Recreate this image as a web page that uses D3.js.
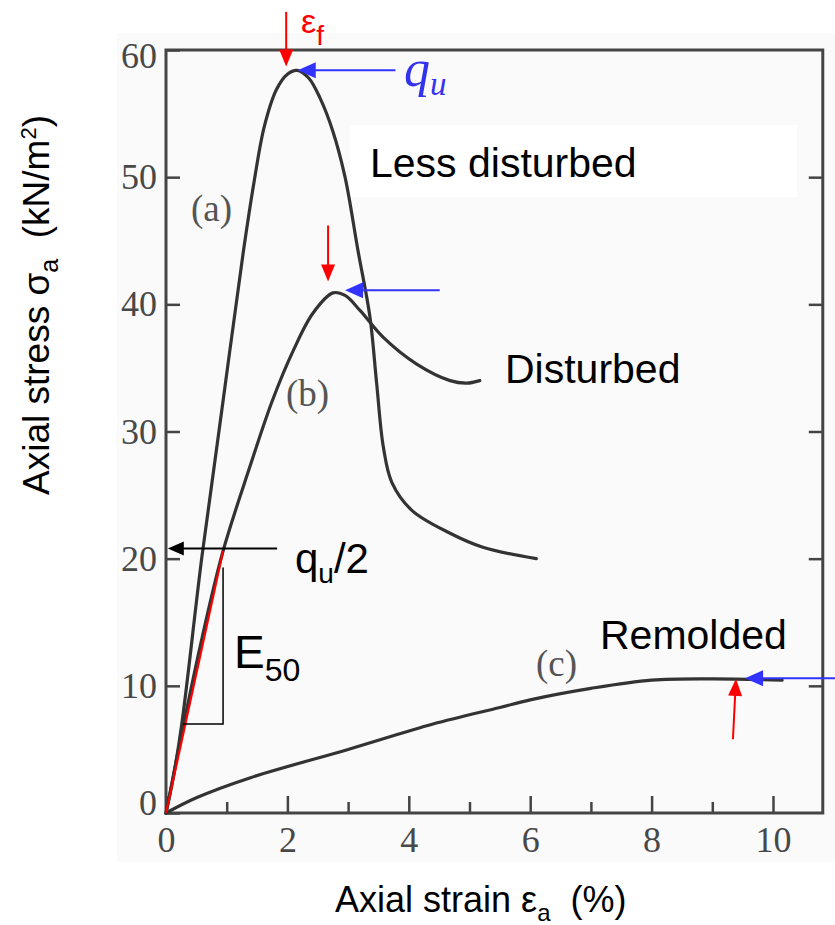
<!DOCTYPE html>
<html>
<head>
<script src="https://d3js.org/d3.v7.min.js"></script>
<style>
  body { margin: 0; background: #fff; }
  svg text { white-space: pre; }
  .tick text { font-family: "Liberation Serif", serif; font-size: 36px; fill: #484848; }
  .tick line { stroke: #444; stroke-width: 2.5px; }
  .curve { fill: none; stroke: #333; stroke-width: 3.2px; stroke-linecap: round; }
  .lbl { font-family: "Liberation Sans", Arial, sans-serif; fill: #000; }
  .panel { font-family: "Liberation Serif", serif; font-size: 37px; fill: #555; }
</style>
</head>
<body>
<script>
// axis ticks
var strainTicks = [0, 2, 4, 6, 8, 10];
var strainMinor = [1, 3, 5, 7, 9];
var stressTicks = [0, 10, 20, 30, 40, 50, 60];

// curves: [strain %, stress kN/m2]
var curveA = [[0,0],[0.12,2.8],[0.26,7.0],[0.59,20.1],[0.94,32.4],[1.27,44.0],[1.45,49.6],[1.62,54.0],[1.82,56.9],[2.0,58.1],[2.16,58.4],[2.35,57.8],[2.54,56.2],[2.75,53.6],[2.95,50.0],[3.16,44.3],[3.36,39.0],[3.47,33.8],[3.58,28.8],[3.72,26.0],[4.05,23.8],[4.68,22.0],[5.22,20.9],[6.1,20.0]];
var curveB = [[0,0],[0.3,7.2],[0.6,13.9],[0.94,20.6],[1.38,27.2],[1.75,32.4],[2.1,36.4],[2.42,39.3],[2.75,40.9],[2.95,40.7],[3.2,39.5],[3.58,37.4],[4.13,35.3],[4.68,34.0],[4.95,33.8],[5.17,34.0]];
var curveC = [[0,0],[0.5,1.2],[1.38,2.76],[3,5.0],[4.4,7.0],[5.5,8.3],[6.0,8.9],[7.0,9.8],[8.0,10.45],[9.0,10.55],[10.15,10.45]];

// annotation arrows in data units: [from, to]
var failArrows = [[[1.98,63.0],[1.98,58.7]], [[2.67,46.2],[2.67,41.8]], [[9.34,5.8],[9.39,10.55]]];
var peakArrows = [[[3.78,58.4],[2.17,58.4]], [[4.51,41.1],[2.95,41.1]], [[11.05,10.6],[9.54,10.6]]];
var halfArrow = [[1.83,20.8],[0.03,20.8]];
var e50Line = [[0,0],[0.94,20.6]];
var e50Bracket = [[0.28,7.0],[0.94,7.0],[0.94,19.3]];

var width = 835, height = 925;

var svg = d3.select("body").append("svg")
    .attr("width", width)
    .attr("height", height);

var x = d3.scaleLinear().domain([0, 10]).range([166, 773]);
var y = d3.scaleLinear().domain([0, 60]).range([813, 50]);
var xMax = 10.82;

// faint scanned background
svg.append("rect").attr("x", 117).attr("y", 33).attr("width", 718).attr("height", 829).attr("fill", "#fafafa");
// white patch behind the label
svg.append("rect").attr("x", 350).attr("y", 125).attr("width", 447).attr("height", 72).attr("fill", "#fff");

// axes
svg.append("g").attr("transform", "translate(0," + y(0) + ")")
    .call(d3.axisBottom(x).tickValues(strainTicks).tickSizeInner(-17).tickSizeOuter(0).tickPadding(13));
svg.append("g").attr("transform", "translate(0," + y(0) + ")")
    .call(d3.axisBottom(x).tickValues(strainMinor).tickSizeInner(-11).tickSizeOuter(0).tickFormat(""));
var gy = svg.append("g").attr("transform", "translate(" + x(0) + ",0)")
    .call(d3.axisLeft(y).tickValues(stressTicks).tickSizeInner(-14).tickSizeOuter(0).tickPadding(9));
svg.append("g").attr("transform", "translate(" + x(xMax) + ",0)")
    .call(d3.axisRight(y).tickValues(stressTicks.slice(1, 6)).tickSizeInner(-14).tickSizeOuter(0).tickFormat(""));
svg.selectAll(".domain").remove();
gy.selectAll(".tick text").filter(function(d) { return d === 0; }).attr("y", -10);
gy.selectAll(".tick text").filter(function(d) { return d === 60; }).attr("y", 6);

// frame
svg.append("rect")
    .attr("x", x(0)).attr("y", y(60))
    .attr("width", x(xMax) - x(0)).attr("height", y(0) - y(60))
    .attr("fill", "none").attr("stroke", "#444").attr("stroke-width", 3);

// curves
var line = d3.line()
    .x(function(d) { return x(d[0]); })
    .y(function(d) { return y(d[1]); })
    .curve(d3.curveCatmullRom.alpha(0.5));

[curveA, curveB, curveC].forEach(function(c) {
  svg.append("path").attr("class", "curve").attr("d", line(c));
});

// E50 secant and bracket
var straight = d3.line().x(function(d) { return x(d[0]); }).y(function(d) { return y(d[1]); });
svg.append("path").attr("d", straight(e50Line))
    .attr("stroke", "#f00").attr("stroke-width", 2.2).attr("fill", "none");
svg.append("path").attr("d", straight(e50Bracket))
    .attr("stroke", "#000").attr("stroke-width", 1.5).attr("fill", "none");

function arrow(a, color, len, half, sw) {
  var x1 = x(a[0][0]), y1 = y(a[0][1]), x2 = x(a[1][0]), y2 = y(a[1][1]);
  var dx = x2 - x1, dy = y2 - y1, L = Math.sqrt(dx * dx + dy * dy);
  var ux = dx / L, uy = dy / L;
  var bx = x2 - ux * len, by = y2 - uy * len;
  svg.append("line").attr("x1", x1).attr("y1", y1).attr("x2", bx + ux * 2).attr("y2", by + uy * 2)
      .attr("stroke", color).attr("stroke-width", sw);
  svg.append("path")
      .attr("d", "M" + x2 + "," + y2 + "L" + (bx - uy * half) + "," + (by + ux * half) +
                 "L" + (bx + uy * half) + "," + (by - ux * half) + "Z")
      .attr("fill", color);
}
failArrows.forEach(function(a) { arrow(a, "#f00", 17, 7, 2); });
peakArrows.forEach(function(a) { arrow(a, "#3333ff", 18, 8, 2); });
arrow(halfArrow, "#000", 16, 7, 2);

// labels
svg.append("text").attr("class", "lbl").attr("x", 370).attr("y", 177).attr("font-size", 41).text("Less disturbed");
svg.append("text").attr("class", "lbl").attr("x", 505).attr("y", 383).attr("font-size", 41).text("Disturbed");
svg.append("text").attr("class", "lbl").attr("x", 600).attr("y", 649).attr("font-size", 41).text("Remolded");

svg.append("text").attr("class", "panel").attr("x", 191).attr("y", 221).text("(a)");
svg.append("text").attr("class", "panel").attr("x", 286).attr("y", 406).text("(b)");
svg.append("text").attr("class", "panel").attr("x", 536).attr("y", 676).text("(c)");

var ef = svg.append("text").attr("class", "lbl").attr("x", 301).attr("y", 33).style("fill", "#f00");
ef.append("tspan").attr("font-size", 34).text("ε");
ef.append("tspan").attr("font-size", 28).attr("dy", 12).text("f");

var qu = svg.append("text").attr("x", 404).attr("y", 86)
    .attr("font-family", "'Liberation Serif', serif").attr("font-style", "italic").attr("fill", "#3333ee");
qu.append("tspan").attr("font-size", 52).text("q");
qu.append("tspan").attr("font-size", 33).attr("dy", 9).text("u");

var q2 = svg.append("text").attr("class", "lbl").attr("x", 295).attr("y", 573);
q2.append("tspan").attr("font-size", 42).text("q");
q2.append("tspan").attr("font-size", 28).attr("dy", 10).text("u");
q2.append("tspan").attr("font-size", 42).attr("dy", -10).text("/2");

var e50 = svg.append("text").attr("class", "lbl").attr("x", 234).attr("y", 668);
e50.append("tspan").attr("font-size", 46).text("E");
e50.append("tspan").attr("font-size", 32).attr("dy", 13).text("50");

// axis titles
var xt = svg.append("text").attr("class", "lbl").attr("x", 335).attr("y", 912).attr("font-size", 36);
xt.append("tspan").text("Axial strain ε");
xt.append("tspan").attr("font-size", 24).attr("dy", 9).text("a");
xt.append("tspan").attr("dy", -9).text("  (%)");

var yt = svg.append("text").attr("class", "lbl").attr("font-size", 37)
    .attr("text-anchor", "middle")
    .attr("transform", "translate(49,305) rotate(-90)");
yt.append("tspan").text("Axial stress σ");
yt.append("tspan").attr("font-size", 25).attr("dy", 9).text("a");
yt.append("tspan").attr("dy", -9).text("  (kN/m");
yt.append("tspan").attr("font-size", 22).attr("dy", -13).text("2");
yt.append("tspan").attr("dy", 13).text(")");
</script>
</body>
</html>
